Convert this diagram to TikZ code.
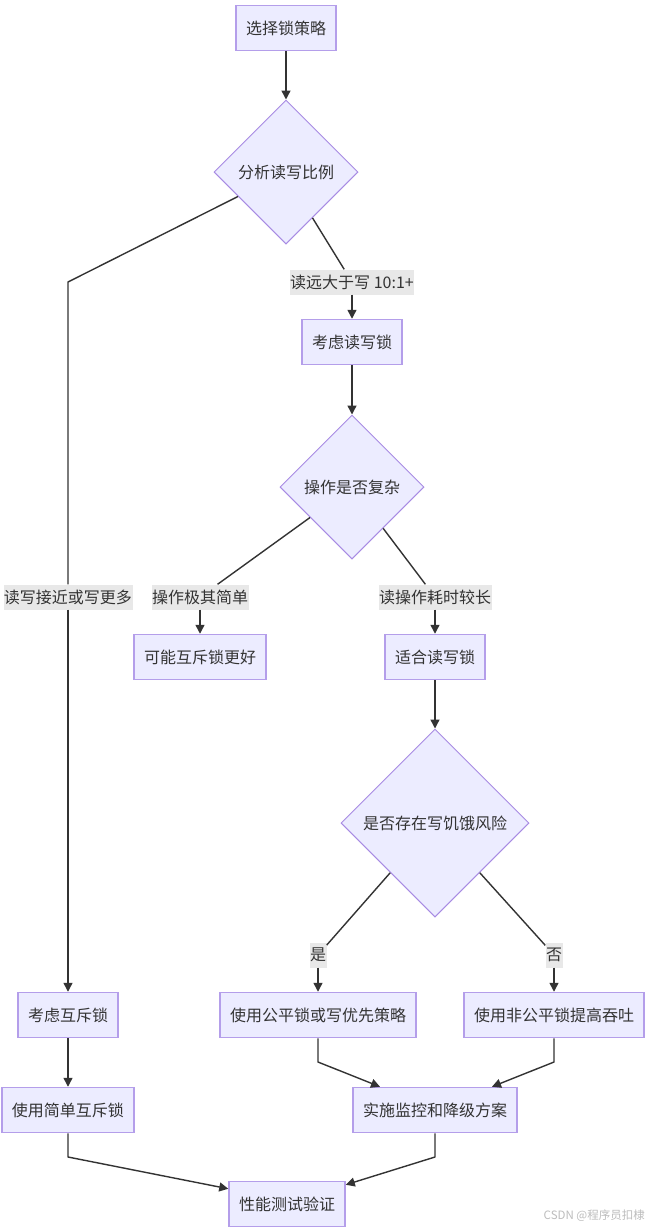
\documentclass[tikz,border=0pt]{standalone}
\usepackage{fontspec}
\newfontfamily\cjk{Noto Sans CJK SC}
\usetikzlibrary{shapes.geometric,arrows.meta,calc}
\definecolor{boxfill}{HTML}{ECECFF}
\definecolor{boxline}{HTML}{B49EEA}
\definecolor{dialine}{HTML}{A88BE3}
\definecolor{edgecol}{HTML}{333333}
\definecolor{labfill}{HTML}{E8E8E8}
\definecolor{txt}{HTML}{333333}
\definecolor{wm}{HTML}{BDBDBD}
\tikzset{
  procbox/.style={rectangle, draw=boxline, line width=1.5pt, fill=boxfill, text=txt,
    font=\cjk\fontsize{16}{19}\selectfont, minimum height=45pt, inner xsep=10pt, inner ysep=0pt},
  decision/.style={diamond, draw=dialine, line width=1pt, fill=boxfill, text=txt,
    font=\cjk\fontsize{16}{19}\selectfont, inner sep=0pt, minimum width=#1, minimum height=#1, aspect=1},
  edgelabel/.style={rectangle, fill=labfill, text=txt, font=\cjk\fontsize{16}{19}\selectfont,
    inner xsep=0.5pt, inner ysep=0pt, minimum height=25pt},
  plainline/.style={draw=edgecol, line width=1.4pt, line join=round},
  flow/.style={plainline, -{Triangle[length=9pt,width=9pt]}},
}
\begin{document}
\begin{tikzpicture}[x=1pt,y=-1pt]
\path[use as bounding box, fill=white] (0,0) rectangle (649,1227);

% nodes
\node[procbox] (A) at (286,28) {选择锁策略};
\node[decision=144pt] (B) at (286,172) {分析读写比例};
\node[edgelabel] (l1) at (352,282) {读远大于写 10:1+};
\node[procbox] (C) at (352,342) {考虑读写锁};
\node[decision=144pt] (D) at (352,487) {操作是否复杂};
\node[edgelabel] (l2) at (200,597) {操作极其简单};
\node[procbox] (F) at (200,657) {可能互斥锁更好};
\node[edgelabel] (l3) at (435,597) {读操作耗时较长};
\node[procbox] (G) at (435,657) {适合读写锁};
\node[decision=188pt] (E) at (435,823) {是否存在写饥饿风险};
\node[edgelabel] (l4) at (318,955) {是};
\node[procbox] (P1) at (318,1015) {使用公平锁或写优先策略};
\node[edgelabel] (l5) at (554,955) {否};
\node[procbox] (P2) at (554,1015) {使用非公平锁提高吞吐};
\node[edgelabel] (l0) at (68,597) {读写接近或写更多};
\node[procbox] (K) at (68,1015) {考虑互斥锁};
\node[procbox] (S) at (68,1110) {使用简单互斥锁};
\node[procbox] (M) at (435,1110) {实施监控和降级方案};
\node[procbox] (T) at (287,1204) {性能测试验证};
\node[anchor=east, text=wm, font=\cjk\fontsize{11.5}{13}\selectfont, inner sep=0pt] (wmk) at (645,1216) {CSDN @程序员扣棣};

% bend points
\coordinate (k1) at (68,282);
\coordinate (m1) at (318,1062);
\coordinate (m2) at (554,1062);
\coordinate (t1) at (68,1157);
\coordinate (t2) at (435,1157);

% connectors
\draw[flow] (A) -- (B);
\draw[plainline] (B.-60) -- (l1);
\draw[flow] (l1) -- (C);
\draw[plainline] (B.207.5) -- (k1) -- (l0);
\draw[flow] (l0) -- (K);
\draw[flow] (C) -- (D);
\draw[plainline] (D.216) -- (l2);
\draw[flow] (l2) -- (F);
\draw[plainline] (D.-53) -- (l3);
\draw[flow] (l3) -- (G);
\draw[flow] (G) -- (E);
\draw[plainline] (E.228) -- (l4);
\draw[flow] (l4) -- (P1);
\draw[plainline] (E.-48) -- (l5);
\draw[flow] (l5) -- (P2);
\draw[flow] (K) -- (S);
\draw[flow] (P1.south) -- (m1) -- ($(M.north)+(-55,0)$);
\draw[flow] (P2.south) -- (m2) -- ($(M.north)+(57,0)$);
\draw[flow] (S.south) -- (t1) -- ($(T.north west)+(0,8)$);
\draw[flow] (M.south) -- (t2) -- ($(T.north east)+(0,4)$);
\end{tikzpicture}
\end{document}
